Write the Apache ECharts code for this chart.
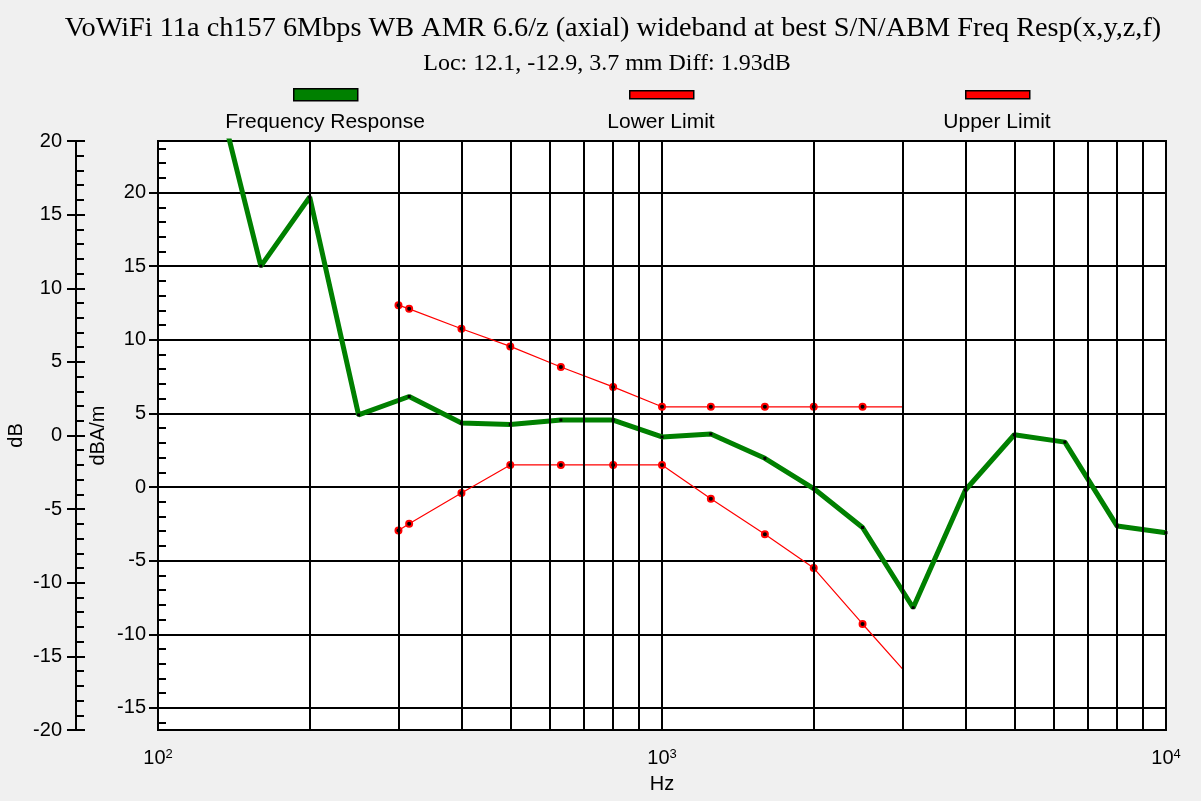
<!DOCTYPE html>
<html>
<head>
<meta charset="utf-8">
<script src="https://cdn.jsdelivr.net/npm/echarts@6.0.0/dist/echarts.min.js"></script>
<style>
  html, body { margin: 0; padding: 0; background: #f0f0f0; }
  #chart { width: 1201px; height: 801px; }
</style>
</head>
<body>
<div id="chart"></div>
<script>
// Titles and legend labels
const titleText = 'VoWiFi 11a ch157 6Mbps WB AMR 6.6/z (axial) wideband at best S/N/ABM Freq Resp(x,y,z,f)';
const subTitleText = 'Loc: 12.1, -12.9, 3.7 mm Diff: 1.93dB';
const legendNames = ['Frequency Response', 'Lower Limit', 'Upper Limit'];
const xName = 'Hz';
const yNameOuter = 'dB';
const yNameInner = 'dBA/m';

// Measured frequency response (Hz, dBA/m)
const respFreq  = [125, 160, 200, 250, 315, 400, 500, 630, 800, 1000, 1250, 1600, 2000, 2500, 3150, 4000, 5000, 6300, 8000, 10000];
const respLevel = [29.7, 15.0, 19.7, 4.9, 6.15, 4.35, 4.25, 4.55, 4.55, 3.4, 3.6, 1.95, -0.1, -2.75, -8.2, -0.2, 3.55, 3.05, -2.65, -3.1];

// Mask limits (Hz, dBA/m)
const limitFreq  = [300, 315, 400, 500, 630, 800, 1000, 1250, 1600, 2000, 2500, 3000];
const upperLevel = [12.35, 12.1, 10.75, 9.55, 8.15, 6.8, 5.45, 5.45, 5.45, 5.45, 5.45, 5.45];
const lowerLevel = [-2.95, -2.5, -0.4, 1.5, 1.5, 1.5, 1.5, -0.8, -3.2, -5.5, -9.3, -12.35];

// Intermediate log grid frequencies
const gridFreq = [200, 300, 400, 500, 600, 700, 800, 900, 2000, 3000, 4000, 5000, 6000, 7000, 8000, 9000];

// Axis ranges
const xRange = [100, 10000];
const innerRange = [-16.5, 23.5];   // dBA/m
const outerRange = [-20, 20];       // dB

const SANS = '"Liberation Sans", Arial, sans-serif';
const SERIF = '"Liberation Serif", "Times New Roman", serif';
const GREEN = '#008000';
const RED = '#ff0000';
const INK = '#000';

function limitData(levels) {
  const last = limitFreq.length - 1;
  return limitFreq.map((f, i) => (i === last
    ? { value: [f, levels[i]], symbol: 'none' }
    : { value: [f, levels[i]] }));
}

const chart = echarts.init(document.getElementById('chart'), null, { renderer: 'canvas' });

const legendCenters = [325, 661, 997];
const legendColors = [GREEN, RED, RED];
const legendHeights = [12, 8, 8];
const legendGraphics = [];
legendNames.forEach((name, i) => {
  legendGraphics.push({
    type: 'rect',
    left: legendCenters[i] - 32,
    top: 94 - legendHeights[i] / 2,
    shape: { width: 64, height: legendHeights[i] },
    style: { fill: legendColors[i], stroke: INK, lineWidth: 1.5 },
    silent: true
  });
  legendGraphics.push({
    type: 'text',
    x: legendCenters[i],
    y: 122,
    style: {
      text: name, fill: INK, font: '21px ' + SANS,
      textAlign: 'center', textVerticalAlign: 'middle'
    },
    silent: true
  });
});

const tickLabelStyle = { color: INK, fontSize: 20, fontFamily: SANS };

const option = {
  backgroundColor: '#f0f0f0',
  animation: false,
  title: [
    { text: titleText, left: 608, top: 10, textAlign: 'center',
      textStyle: { fontFamily: SERIF, fontSize: 28.3, fontWeight: 'normal', color: INK } },
    { text: subTitleText, left: 602, top: 47, textAlign: 'center',
      textStyle: { fontFamily: SERIF, fontSize: 24, fontWeight: 'normal', color: INK } }
  ],
  graphic: legendGraphics,
  grid: {
    left: 158, right: 35, top: 141, bottom: 71,
    outerBoundsMode: 'none', containLabel: false,
    show: true, backgroundColor: '#fff', borderColor: INK, borderWidth: 2
  },
  xAxis: {
    type: 'log', logBase: 10, min: xRange[0], max: xRange[1],
    name: xName, nameLocation: 'middle', nameGap: 44,
    nameTextStyle: { color: INK, fontSize: 20, fontFamily: SANS },
    axisLine: { show: true, lineStyle: { color: INK, width: 2 } },
    axisTick: { show: true, inside: false, length: 15, lineStyle: { color: INK, width: 2 } },
    splitLine: { show: true, lineStyle: { color: INK, width: 2 } },
    axisLabel: {
      margin: 18,
      formatter: v => '{b|10}{s|' + Math.round(Math.log10(v)) + '}',
      rich: {
        b: { color: INK, fontSize: 20, fontFamily: SANS },
        s: { color: INK, fontSize: 13, fontFamily: SANS, verticalAlign: 'top' }
      }
    }
  },
  yAxis: [
    { // dBA/m: labels, outward major ticks, grid lines
      type: 'value', position: 'left', offset: 0,
      min: innerRange[0], max: innerRange[1], splitNumber: 8,
      name: yNameInner, nameLocation: 'middle', nameGap: 50, nameMoveOverlap: false,
      nameTextStyle: { color: INK, fontSize: 20, fontFamily: SANS },
      axisLine: { show: true, onZero: false, lineStyle: { color: INK, width: 2 } },
      axisTick: { show: true, inside: false, length: 9, lineStyle: { color: INK, width: 2 } },
      axisLabel: Object.assign({ margin: 12, showMinLabel: false, showMaxLabel: false }, tickLabelStyle),
      splitLine: { show: true, lineStyle: { color: INK, width: 2 } }
    },
    { // dBA/m: inward major and minor ticks
      type: 'value', position: 'left', offset: 0,
      min: innerRange[0], max: innerRange[1], splitNumber: 8,
      axisLine: { show: true, onZero: false, lineStyle: { color: INK, width: 2 } },
      axisTick: { show: true, inside: true, length: 9, lineStyle: { color: INK, width: 2 } },
      minorTick: { show: true, splitNumber: 5, length: 8, lineStyle: { color: INK, width: 2 } },
      axisLabel: { show: false },
      splitLine: { show: false }
    },
    { // dB: labels and outward major ticks
      type: 'value', position: 'left', offset: 82,
      min: outerRange[0], max: outerRange[1], interval: 5,
      name: yNameOuter, nameLocation: 'middle', nameGap: 50, nameMoveOverlap: false,
      nameTextStyle: { color: INK, fontSize: 20, fontFamily: SANS },
      axisLine: { show: true, onZero: false, lineStyle: { color: INK, width: 2 } },
      axisTick: { show: true, inside: false, length: 9, lineStyle: { color: INK, width: 2 } },
      axisLabel: Object.assign({ margin: 14 }, tickLabelStyle),
      splitLine: { show: false }
    },
    { // dB: inward major and minor ticks
      type: 'value', position: 'left', offset: 82,
      min: outerRange[0], max: outerRange[1], interval: 5,
      axisLine: { show: true, onZero: false, lineStyle: { color: INK, width: 2 } },
      axisTick: { show: true, inside: true, length: 9, lineStyle: { color: INK, width: 2 } },
      minorTick: { show: true, splitNumber: 5, length: 8, lineStyle: { color: INK, width: 2 } },
      axisLabel: { show: false },
      splitLine: { show: false }
    }
  ],
  series: [
    { // intermediate vertical grid lines of the log axis
      type: 'line', name: 'grid', data: [], z: 1, silent: true,
      xAxisIndex: 0, yAxisIndex: 0,
      markLine: {
        silent: true, symbol: ['none', 'none'],
        label: { show: false },
        lineStyle: { color: INK, width: 2, type: 'solid' },
        emphasis: { disabled: true },
        data: gridFreq.map(f => ({ xAxis: f }))
      }
    },
    {
      type: 'line', name: legendNames[2], z: 3,
      data: limitData(upperLevel),
      lineStyle: { color: RED, width: 1.2 },
      symbol: 'circle', symbolSize: 6, showAllSymbol: true,
      itemStyle: { color: INK, borderColor: RED, borderWidth: 2 }
    },
    {
      type: 'line', name: legendNames[1], z: 3,
      data: limitData(lowerLevel),
      lineStyle: { color: RED, width: 1.2 },
      symbol: 'circle', symbolSize: 6, showAllSymbol: true,
      itemStyle: { color: INK, borderColor: RED, borderWidth: 2 }
    },
    {
      type: 'line', name: legendNames[0], z: 4,
      data: respFreq.map((f, i) => [f, respLevel[i]]),
      clip: true,
      lineStyle: { color: GREEN, width: 5 },
      symbol: 'rect', symbolSize: 3, showAllSymbol: true,
      itemStyle: { color: INK }
    }
  ]
};

chart.setOption(option);
</script>
</body>
</html>
